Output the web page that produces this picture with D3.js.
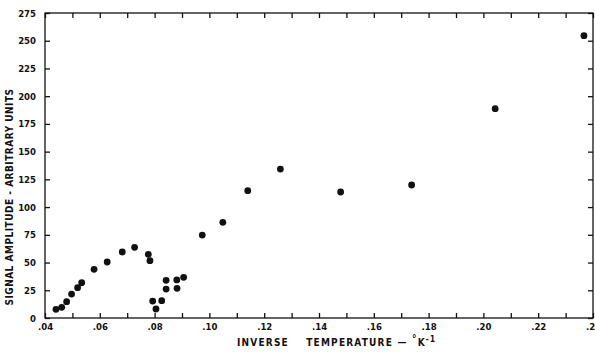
<!DOCTYPE html>
<html>
<head>
<meta charset="utf-8">
<script src="https://cdn.jsdelivr.net/npm/d3@7"></script>
<style>
  body { margin: 0; background: #fff; }
  svg { display: block; }
  .tk text { font-family: "DejaVu Sans Condensed", "DejaVu Sans", sans-serif; font-weight: bold; font-size: 9.5px; fill: #111; }
  .ttl { font-family: "DejaVu Sans Condensed", "DejaVu Sans", sans-serif; font-weight: bold; font-size: 10px; fill: #111; letter-spacing: 1.2px; }
</style>
</head>
<body>
<svg width="595" height="352"></svg>
<script>
// inverse temperature (1/K) and signal amplitude
var invTemp = [0.0440, 0.0461, 0.0479, 0.0497, 0.0519, 0.0534, 0.0579, 0.0627, 0.0682, 0.0727,
               0.0777, 0.0783, 0.0793, 0.0805, 0.0826, 0.0842, 0.0842, 0.0881, 0.0882, 0.0906,
               0.0974, 0.1049, 0.1140, 0.1259, 0.1479, 0.1738, 0.2043, 0.2367];
var amplitude = [7.8, 9.6, 14.7, 21.6, 27.3, 31.8, 43.9, 50.5, 59.5, 63.7,
                 57.4, 51.7, 15.3, 8.1, 15.6, 34.0, 26.1, 34.3, 26.8, 36.7,
                 74.8, 86.3, 114.8, 134.3, 113.6, 119.9, 188.7, 254.6];
var xTicks = [0.04, 0.05, 0.06, 0.07, 0.08, 0.09, 0.10, 0.11, 0.12, 0.13, 0.14, 0.15,
              0.16, 0.17, 0.18, 0.19, 0.20, 0.21, 0.22, 0.23, 0.24];
var xLabels = [".04", ".06", ".08", ".10", ".12", ".14", ".16", ".18", ".20", ".22", ".24"];
var yTicks = [0, 25, 50, 75, 100, 125, 150, 175, 200, 225, 250, 275];

var svg = d3.select("svg");
var L = 45, R = 593, T = 13, B = 318;

var x = d3.scaleLinear().domain([0.04, 0.24]).range([L, R]);
var y = d3.scaleLinear().domain([0, 275]).range([B, T]);

// frame
svg.append("rect").attr("x", L).attr("y", T).attr("width", R - L).attr("height", B - T)
   .attr("fill", "none").attr("stroke", "#111").attr("stroke-width", 1.3);

function fmtX(d) {
  var s = d3.format(".2f")(d).replace(/^0/, "");
  return xLabels.indexOf(s) >= 0 ? s : "";
}

var gx = svg.append("g").attr("class", "tk").attr("transform", "translate(0," + B + ")")
  .call(d3.axisBottom(x).tickValues(xTicks).tickSize(-5).tickPadding(5).tickFormat(fmtX));
var gxt = svg.append("g").attr("class", "tk").attr("transform", "translate(0," + T + ")")
  .call(d3.axisTop(x).tickValues(xTicks).tickSize(-5).tickFormat(""));
var gy = svg.append("g").attr("class", "tk").attr("transform", "translate(" + L + ",0)")
  .call(d3.axisLeft(y).tickValues(yTicks).tickSize(-5).tickPadding(9).tickFormat(d3.format("d")));
var gyr = svg.append("g").attr("class", "tk").attr("transform", "translate(" + R + ",0)")
  .call(d3.axisRight(y).tickValues(yTicks).tickSize(-5).tickFormat(""));

[gx, gxt, gy, gyr].forEach(function(g) {
  g.select(".domain").remove();
  g.selectAll(".tick line").attr("stroke", "#111").attr("stroke-width", 1.3);
});

// data points
svg.append("g").selectAll("circle")
   .data(invTemp)
   .enter()
   .append("circle")
   .attr("cx", function(d) { return x(d); })
   .attr("cy", function(d, i) { return y(amplitude[i]); })
   .attr("r", 3.4)
   .style("fill", "#111");

// axis titles
var xt = svg.append("text").attr("class", "ttl")
   .attr("x", 237).attr("y", 346)
   .attr("xml:space", "preserve").style("white-space", "pre");
xt.append("tspan").text("INVERSE    TEMPERATURE \u2014 ");
xt.append("tspan").attr("dy", -4).text("\u00b0");
xt.append("tspan").attr("dy", 4).text("K");
xt.append("tspan").attr("dy", -4).style("font-size", "8px").text("-1");

svg.append("text").attr("class", "ttl")
   .attr("transform", "translate(13,197) rotate(-90)")
   .attr("text-anchor", "middle")
   .style("letter-spacing", "0.5px")
   .text("SIGNAL AMPLITUDE - ARBITRARY UNITS");
</script>
</body>
</html>
